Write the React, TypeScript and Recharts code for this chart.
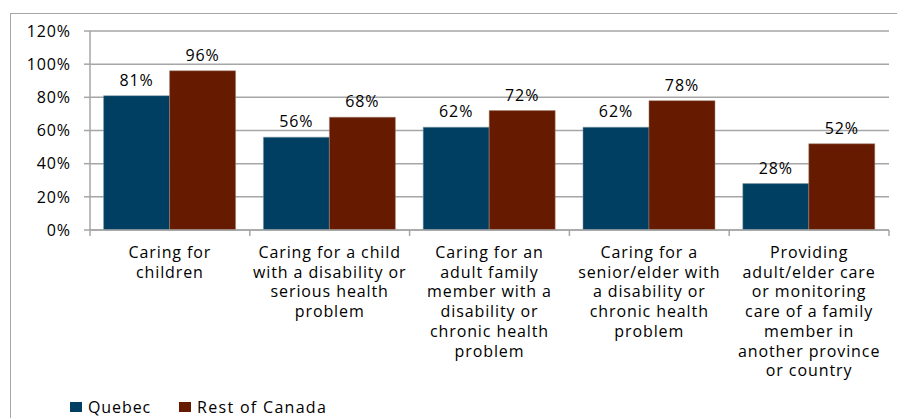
import React from "react";
import { BarChart, Bar, XAxis, YAxis, CartesianGrid, LabelList } from "recharts";

const categories = [
  "Caring for children",
  "Caring for a child with a disability or serious health problem",
  "Caring for an adult family member with a disability or chronic health problem",
  "Caring for a senior/elder with a disability or chronic health problem",
  "Providing adult/elder care or monitoring care of a family member in another province or country",
];
const categoryLines = [
  ["Caring for", "children"],
  ["Caring for a child", "with a disability or", "serious health", "problem"],
  ["Caring for an", "adult family", "member with a", "disability or", "chronic health", "problem"],
  ["Caring for a", "senior/elder with", "a disability or", "chronic health", "problem"],
  ["Providing", "adult/elder care", "or monitoring", "care of a family", "member in", "another province", "or country"],
];
const quebec = [81, 56, 62, 62, 28];
const restOfCanada = [96, 68, 72, 78, 52];
const yTicks = [0, 20, 40, 60, 80, 100, 120];

const data = categories.map((c, i) => ({
  name: c,
  quebec: quebec[i],
  roc: restOfCanada[i],
}));

const FONT = "'Open Sans', 'DejaVu Sans', sans-serif";
const FS = 16;
const LS = 0.9;
const BLUE = "#013F62";
const RED = "#661A00";
const GRID = "#A6A6A6";

const XTick = (props: any) => {
  const { x, y, payload, index } = props;
  const off = payload.offset || 0;
  const lines = categoryLines[payload.index ?? index] || [];
  return (
    <g>
      <line x1={x - off} x2={x - off} y1={y} y2={y + 6} stroke={GRID} strokeWidth={1.5} />
      {index === categories.length - 1 && (
        <line x1={x + off} x2={x + off} y1={y} y2={y + 6} stroke={GRID} strokeWidth={1.5} />
      )}
      <text x={x} y={y} textAnchor="middle" fontFamily={FONT} fontSize={FS} fill="#000" letterSpacing={LS}>
        {lines.map((l, i) => (
          <tspan key={i} x={x} y={y + 28 + i * 19.7}>
            {l}
          </tspan>
        ))}
      </text>
    </g>
  );
};

const pct = (v: any) => `${v}%`;

export default function App() {
  return (
    <div style={{ position: "absolute", left: 0, top: 0, width: 897, height: 418, background: "#fff", overflow: "hidden" }}>
      <div
        style={{
          position: "absolute",
          left: 10,
          top: 13,
          width: 900,
          height: 420,
          border: "1.5px solid #A6A6A6",
          boxSizing: "border-box",
        }}
      />
      <div style={{ position: "absolute", left: 0, top: 0 }}>
        <BarChart
          width={897}
          height={418}
          data={data}
          margin={{ top: 31, right: 8, bottom: 0, left: 0 }}
          barCategoryGap="8.5%"
          barGap={0}
        >
          <CartesianGrid vertical={false} stroke={GRID} strokeWidth={1.5} />
          <XAxis
            dataKey="name"
            tickLine={false}
            axisLine={{ stroke: GRID, strokeWidth: 1.5 }}
            tick={<XTick />}
            tickSize={0}
            tickMargin={0}
            interval={0}
            height={188}
          />
          <YAxis
            domain={[0, 120]}
            ticks={yTicks}
            tickFormatter={pct}
            width={90}
            axisLine={{ stroke: GRID, strokeWidth: 1.5 }}
            tickLine={{ stroke: GRID, strokeWidth: 1.5 }}
            tickSize={6}
            tickMargin={13}
            tick={{ fontFamily: FONT, fontSize: FS, fill: "#000", letterSpacing: LS }}
          />
          <Bar dataKey="quebec" fill={BLUE} stroke="#8a9aa8" strokeWidth={0.5} isAnimationActive={false}>
            <LabelList dataKey="quebec" position="top" offset={10} formatter={pct} fontFamily={FONT} fontSize={FS} fill="#000" letterSpacing={LS} />
          </Bar>
          <Bar dataKey="roc" fill={RED} stroke="#a08070" strokeWidth={0.5} isAnimationActive={false}>
            <LabelList dataKey="roc" position="top" offset={10} formatter={pct} fontFamily={FONT} fontSize={FS} fill="#000" letterSpacing={LS} />
          </Bar>
        </BarChart>
      </div>
      <div style={{ position: "absolute", left: 70, top: 396, display: "flex", alignItems: "center", fontFamily: FONT, fontSize: FS, letterSpacing: LS, color: "#000" }}>
        <span style={{ display: "inline-block", width: 12, height: 10, background: BLUE, marginRight: 6 }} />
        <span style={{ marginRight: 28 }}>Quebec</span>
        <span style={{ display: "inline-block", width: 12, height: 10, background: RED, marginRight: 6 }} />
        <span style={{ letterSpacing: 1.3 }}>Rest of Canada</span>
      </div>
    </div>
  );
}
